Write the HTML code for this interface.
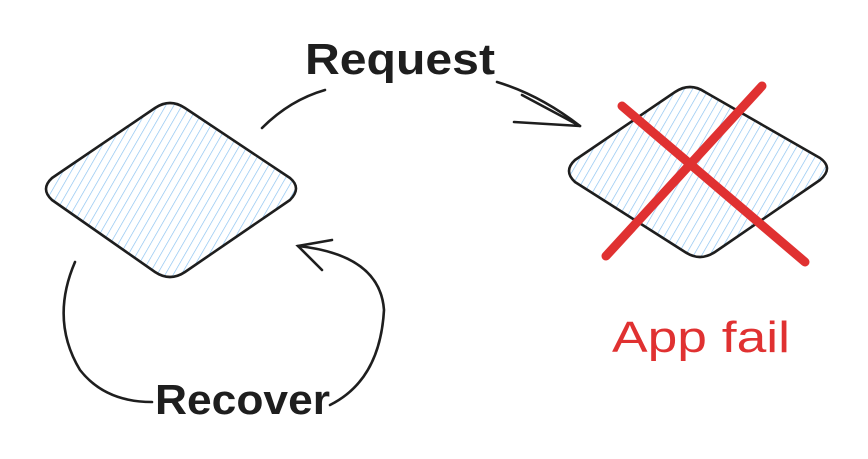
<!DOCTYPE html>
<html><head><meta charset="utf-8"><style>
html,body{margin:0;padding:0;background:#fff;width:868px;height:459px;overflow:hidden}
svg{display:block}
text{font-family:"Liberation Sans",sans-serif;}
</style></head><body>
<svg width="868" height="459" viewBox="0 0 868 459" xmlns="http://www.w3.org/2000/svg">
<defs>
<pattern id="h" width="7" height="7" patternUnits="userSpaceOnUse" patternTransform="rotate(30)">
<line x1="0" y1="0" x2="0" y2="7" stroke="#86c0f0" stroke-width="1.3"/>
</pattern>
</defs>
<!-- left diamond -->
<path d="M52,178 L155,108 Q170,98 185,108 L290,178 Q302,188 290,200 L185,272 Q170,282 155,272 L52,200 Q40,189 52,178 Z" fill="url(#h)" stroke="#1e1e1e" stroke-width="2.6" stroke-linejoin="round"/>
<!-- right diamond -->
<path d="M575,160 L675,92 Q690,82 705,92 L820,158 Q834,168 820,180 L715,252 Q700,262 685,252 L575,182 Q563,171 575,160 Z" fill="url(#h)" stroke="#1e1e1e" stroke-width="2.6" stroke-linejoin="round"/>
<!-- red X -->
<line x1="622" y1="106" x2="805" y2="262" stroke="#e03131" stroke-width="9" stroke-linecap="round"/>
<line x1="762" y1="86" x2="606" y2="256" stroke="#e03131" stroke-width="9" stroke-linecap="round"/>
<!-- connectors -->
<g fill="none" stroke="#1e1e1e" stroke-width="2.6" stroke-linecap="round">
<path d="M262,128 Q290,100 325,90"/>
<path d="M497,82 Q540,95 580,126"/>
<path d="M522,95 L580,126 M514,122 L580,126"/>
<path d="M75,262 Q50,320 80,370 Q105,402 152,402"/>
<path d="M330,405 Q380,380 384,310 Q380,255 298,246"/>
<path d="M332,240 L298,246 L322,270"/>
</g>
<text x="305" y="74" font-size="44" fill="#1e1e1e" font-weight="bold" textLength="190" lengthAdjust="spacingAndGlyphs">Request</text>
<text x="155" y="414" font-size="42" fill="#1e1e1e" font-weight="bold" textLength="175" lengthAdjust="spacingAndGlyphs">Recover</text>
<text x="612" y="352" font-size="44" fill="#e03131" textLength="178" lengthAdjust="spacingAndGlyphs">App fail</text>
</svg>
</body></html>
